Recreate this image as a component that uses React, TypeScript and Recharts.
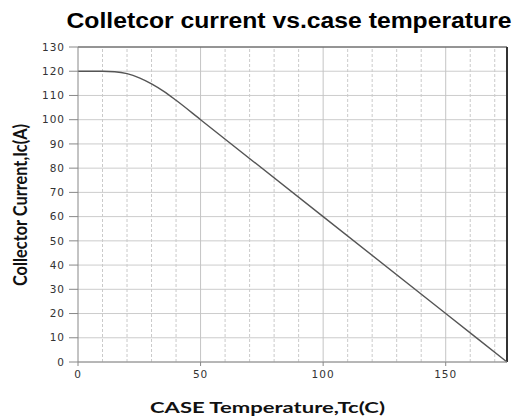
import React from "react";
import {
  LineChart,
  Line,
  XAxis,
  YAxis,
  CartesianGrid,
  ReferenceLine,
} from "recharts";

// case temperature (°C) and derated collector current (A)
const caseTemp = [0, 10, 15, 20, 25, 30, 35, 40, 50, 100, 150, 175];
const collectorCurrent = [120, 120, 119.8, 119.0, 117.3, 114.8, 111.7, 108, 100, 60, 20, 0];

const xTicks = [0, 50, 100, 150];
const yTicks = [0, 10, 20, 30, 40, 50, 60, 70, 80, 90, 100, 110, 120, 130];
const minorX = [10, 20, 30, 40, 60, 70, 80, 90, 110, 120, 130, 140, 160, 170];
const majorX = [50, 100, 150];

const data = caseTemp.map((t, i) => ({ t, ic: collectorCurrent[i] }));

const tickStyle = {
  fontFamily: "DejaVu Sans",
  fontSize: 10.5,
  fill: "#333",
  letterSpacing: 1,
};

export default function App() {
  return (
    <div
      style={{
        position: "absolute",
        left: 0,
        top: 0,
        width: 526,
        height: 420,
        background: "#fff",
      }}
    >
      <LineChart
        width={526}
        height={420}
        data={data}
        margin={{ top: 47, right: 19, left: 0, bottom: 0 }}
      >
        <CartesianGrid vertical={false} stroke="#cccccc" strokeWidth={1} />
        {minorX.map((x) => (
          <ReferenceLine
            key={"mn" + x}
            x={x}
            stroke="#cacaca"
            strokeDasharray="3 2"
          />
        ))}
        {majorX.map((x) => (
          <ReferenceLine key={"mj" + x} x={x} stroke="#c4c4c4" />
        ))}
        <ReferenceLine y={130} stroke="#444" strokeWidth={1.2} />
        <ReferenceLine x={175} stroke="#333" strokeWidth={2} />
        <XAxis
          dataKey="t"
          type="number"
          domain={[0, 175]}
          ticks={xTicks}
          height={58}
          stroke="#888"
          tickSize={4}
          tickMargin={5}
          tick={tickStyle}
          label={{
            content: () => (
              <text
                x={267.5}
                y={413}
                textAnchor="middle"
                textLength={235}
                lengthAdjust="spacingAndGlyphs"
                style={{
                  fontFamily: "Lato",
                  fontWeight: 700,
                  fontSize: 16,
                  fill: "#111",
                }}
              >
                CASE Temperature,Tc(C)
              </text>
            ),
          }}
        />
        <YAxis
          type="number"
          domain={[0, 130]}
          ticks={yTicks}
          width={78}
          stroke="#888"
          tickSize={9}
          tickMargin={4}
          tick={tickStyle}
          interval={0}
          label={{
            content: () => (
              <text
                x={27}
                y={205}
                transform="rotate(-90 27 205)"
                textAnchor="middle"
                textLength={162}
                lengthAdjust="spacingAndGlyphs"
                style={{
                  fontFamily: "Lato",
                  fontWeight: 700,
                  fontSize: 19,
                  fill: "#111",
                }}
              >
                Collector Current,Ic(A)
              </text>
            ),
          }}
        />
        <Line
          type="monotone"
          dataKey="ic"
          stroke="#555"
          strokeWidth={1.4}
          dot={false}
          isAnimationActive={false}
        />
      </LineChart>
      <svg
        width={526}
        height={40}
        style={{ position: "absolute", left: 0, top: 0 }}
      >
        <text
          x={289}
          y={28}
          textAnchor="middle"
          textLength={445}
          lengthAdjust="spacingAndGlyphs"
          style={{
            fontFamily: "'Liberation Sans', Arial, sans-serif",
            fontWeight: 700,
            fontSize: 22,
            fill: "#000",
          }}
        >
          Colletcor current vs.case temperature
        </text>
      </svg>
    </div>
  );
}
